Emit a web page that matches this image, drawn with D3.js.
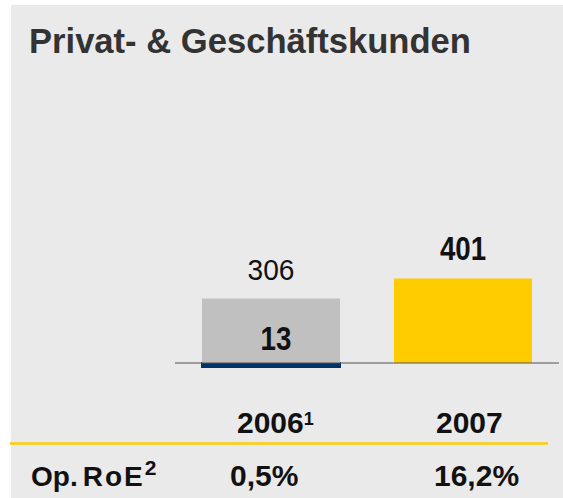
<!DOCTYPE html>
<html>
<head>
<meta charset="utf-8">
<script src="https://cdn.jsdelivr.net/npm/d3@7"></script>
<style>
  body { margin: 0; background: #fff; }
  svg { display: block; font-family: Arial, 'Liberation Sans', sans-serif; }
</style>
</head>
<body>
<svg width="563" height="498"></svg>
<script>
(function (d3) {
  'use strict';

  // chart values
  const years = ['2006', '2007'];
  const yearNotes = ['1', ''];           // footnote marks after the year
  const operatingProfit = [13, 401];     // bold figures
  const proForma = [306, null];          // grey comparison bar (2006 only)
  const roeValues = ['0,5%', '16,2%'];
  const title = 'Privat- & Geschäftskunden';

  const colors = ['#003366', '#ffcc00'];

  const svg = d3.select('svg');
  const width = +svg.attr('width');
  const height = +svg.attr('height');

  // grey panel
  svg.append('rect')
    .attr('x', 11).attr('y', 5)
    .attr('width', width - 11).attr('height', height - 5)
    .attr('fill', '#eaeaea');

  svg.append('text')
    .attr('x', 29).attr('y', 53)
    .attr('font-size', 34.6)
    .attr('font-weight', 'bold')
    .attr('fill', '#333')
    .text(title);

  const xScale = d3.scaleBand()
    .domain(years)
    .range([175, 559])
    .paddingInner(0.28125)
    .paddingOuter(0.140625);

  const yScale = d3.scaleLinear()
    .domain([0, 401])
    .range([363, 278.5]);

  const y0 = yScale(0);

  // profit bars (2006 one sits under the grey bar)
  svg.selectAll('.profit-bar').data(years)
    .enter().append('rect')
      .attr('class', 'profit-bar')
      .attr('x', d => xScale(d))
      .attr('y', (d, i) => yScale(operatingProfit[i]))
      .attr('width', xScale.bandwidth())
      .attr('height', (d, i) => y0 - yScale(operatingProfit[i]))
      .attr('fill', (d, i) => colors[i]);

  const pf = years.map((d, i) => ({ year: d, value: proForma[i] }))
    .filter(d => d.value != null);

  // dark strip under the axis marks the small real value
  svg.selectAll('.strip').data(pf)
    .enter().append('rect')
      .attr('class', 'strip')
      .attr('x', d => xScale(d.year) - 1)
      .attr('y', y0 - 1)
      .attr('width', xScale.bandwidth() + 2)
      .attr('height', 6)
      .attr('fill', colors[0]);

  svg.selectAll('.pf-bar').data(pf)
    .enter().append('rect')
      .attr('class', 'pf-bar')
      .attr('x', d => xScale(d.year))
      .attr('y', d => yScale(d.value))
      .attr('width', xScale.bandwidth())
      .attr('height', d => y0 - yScale(d.value))
      .attr('fill', '#c0c0c0');

  // baseline
  svg.append('line')
    .attr('x1', xScale.range()[0]).attr('x2', xScale.range()[1])
    .attr('y1', y0).attr('y2', y0)
    .attr('stroke', '#555').attr('stroke-width', 1);

  // pro-forma labels
  svg.selectAll('.pf-label').data(pf)
    .enter().append('text')
      .attr('class', 'pf-label')
      .attr('transform', d => `translate(${xScale(d.year) + xScale.bandwidth() / 2},${yScale(d.value) - 18.5}) scale(0.97,1)`)
      .attr('text-anchor', 'middle')
      .attr('font-size', 29)
      .attr('fill', '#111')
      .text(d => d.value);

  // bold profit labels: inside the grey bar when there is one, else on top
  svg.selectAll('.profit-label').data(years)
    .enter().append('text')
      .attr('class', 'profit-label')
      .attr('transform', (d, i) => {
        const cx = xScale(d) + xScale.bandwidth() / 2;
        const y = proForma[i] != null ? y0 - 13 : yScale(operatingProfit[i]) - 19;
        return `translate(${proForma[i] != null ? cx + 5 : cx},${y}) scale(0.84,1)`;
      })
      .attr('text-anchor', 'middle')
      .attr('font-size', 33)
      .attr('font-weight', 'bold')
      .attr('fill', '#111')
      .text((d, i) => operatingProfit[i]);

  // table below the chart
  const yearOffset = [35, 42];
  const yearLabels = svg.selectAll('.year').data(years)
    .enter().append('text')
      .attr('class', 'year')
      .attr('x', d => xScale(d) + yearOffset[years.indexOf(d)])
      .attr('y', 433)
      .attr('font-size', 30)
      .attr('font-weight', 'bold')
      .attr('fill', '#111');
  yearLabels.append('tspan').text(d => d);
  yearLabels.append('tspan')
    .attr('dx', 0)
    .attr('dy', -8)
    .attr('font-size', 18)
    .text((d, i) => yearNotes[i]);

  svg.append('line')
    .attr('x1', 10).attr('x2', 548)
    .attr('y1', 443.5).attr('y2', 443.5)
    .attr('stroke', '#ffcc00').attr('stroke-width', 2.3);

  const roeLabel = svg.append('text')
    .attr('x', 31).attr('y', 486)
    .attr('font-size', 28)
    .attr('font-weight', 'bold')
    .attr('fill', '#111');
  roeLabel.append('tspan').text('Op.');
  roeLabel.append('tspan').attr('dx', 5).attr('letter-spacing', 2).text('RoE');
  roeLabel.append('tspan').attr('dx', 0).attr('dy', -11).attr('font-size', 21).text('2');

  const roeOffset = [28, 40];
  svg.selectAll('.roe').data(roeValues)
    .enter().append('text')
      .attr('class', 'roe')
      .attr('x', (d, i) => xScale(years[i]) + roeOffset[i])
      .attr('y', 486)
      .attr('font-size', 30)
      .attr('font-weight', 'bold')
      .attr('fill', '#111')
      .text(d => d);

}(d3));
</script>
</body>
</html>
